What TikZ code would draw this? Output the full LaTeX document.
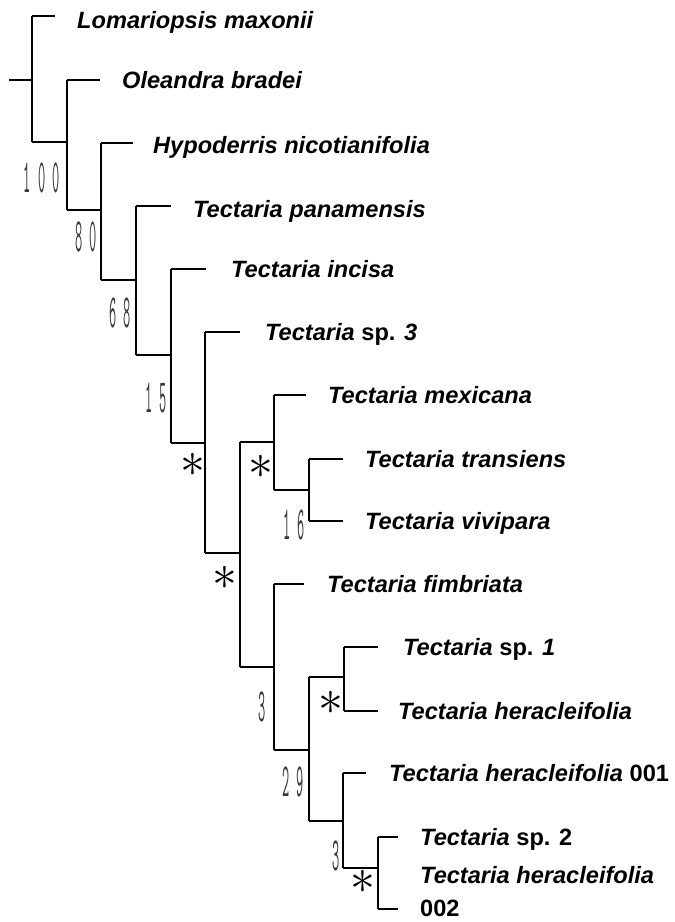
\documentclass[tikz,border=0pt]{standalone}
\usepackage{fontspec}
\usepackage{graphicx}
\setmainfont{Liberation Sans}
\definecolor{suppgray}{RGB}{55,55,55}
\begin{document}
\begin{tikzpicture}[x=1pt,y=-1pt,
  hline/.style={line width=2.6pt,black},
  vline/.style={line width=1.6pt,black},
  taxon/.style={anchor=base west,inner sep=0pt,font=\fontsize{23.6}{27}\selectfont\bfseries},
  supp/.style={inner sep=0pt,text=suppgray,font=\ttfamily\fontsize{14}{14}\selectfont},
  star/.style={inner sep=0pt,font=\fontsize{24.88}{25}\selectfont}]
\useasboundingbox[fill=white] (0,0) rectangle (675,922);
% vertical branch coordinates
\coordinate (root) at (9,80);
\coordinate (V1t) at (32,16);   \coordinate (V1b) at (32,142);
\coordinate (V2t) at (67,80);   \coordinate (V2b) at (67,210);
\coordinate (V3t) at (101,143); \coordinate (V3b) at (101,280);
\coordinate (V4t) at (136,206); \coordinate (V4b) at (136,355);
\coordinate (V5t) at (171,269); \coordinate (V5b) at (171,443);
\coordinate (V6t) at (205,332); \coordinate (V6b) at (205,553);
\coordinate (V7t) at (240,442); \coordinate (V7b) at (240,667);
\coordinate (V8t) at (274,395); \coordinate (V8b) at (274,490);
\coordinate (V9t) at (309,459); \coordinate (V9b) at (309,521);
\coordinate (V10t) at (274,584); \coordinate (V10b) at (274,750);
\coordinate (V11t) at (309,677); \coordinate (V11b) at (309,821);
\coordinate (V12t) at (344,647); \coordinate (V12b) at (344,711);
\coordinate (V13t) at (343,773); \coordinate (V13b) at (343,868);
\coordinate (V14t) at (378,837); \coordinate (V14b) at (378,909);
% verticals
\foreach \v in {V1,V2,V3,V4,V5,V6,V7,V8,V9,V10,V11,V12,V13,V14}
  \draw[vline] (\v t) -- (\v b);
% internal horizontals
\draw[hline] (root) -- (root -| V1t);
\draw[hline] (V1b) -- (V1b -| V2t);
\draw[hline] (V2b) -- (V2b -| V3t);
\draw[hline] (V3b) -- (V3b -| V4t);
\draw[hline] (V4b) -- (V4b -| V5t);
\draw[hline] (V5b) -- (V5b -| V6t);
\draw[hline] (V6b) -- (V6b -| V7t);
\draw[hline] (V7t) -- (V7t -| V8t);
\draw[hline] (V8b) -- (V8b -| V9t);
\draw[hline] (V7b) -- (V7b -| V10t);
\draw[hline] (V10b) -- (V10b -| V11t);
\draw[hline] (V11t) -- (V11t -| V12t);
\draw[hline] (V11b) -- (V11b -| V13t);
\draw[hline] (V13b) -- (V13b -| V14t);
% terminal branches
\draw[hline] (V1t) -- ++(23,0);
\draw[hline] (V2t) -- ++(33,0);
\draw[hline] (V3t) -- ++(32,0);
\draw[hline] (V4t) -- ++(35,0);
\draw[hline] (V5t) -- ++(35,0);
\draw[hline] (V6t) -- ++(35,0);
\draw[hline] (V8t) -- ++(32,0);
\draw[hline] (V9t) -- ++(34,0);
\draw[hline] (V9b) -- ++(34,0);
\draw[hline] (V10t) -- ++(30,0);
\draw[hline] (V12t) -- ++(34,0);
\draw[hline] (V12b) -- ++(34,0);
\draw[hline] (V13t) -- ++(23,0);
\draw[hline] (V14t) -- ++(20,0);
\draw[hline] (V14b) -- ++(20,0);
% taxon labels
\node[taxon] (t1) at (77,28) {\itshape Lomariopsis maxonii};
\node[taxon] (t2) at (122,88) {\itshape Oleandra bradei};
\node[taxon] (t3) at (153,153) {\itshape Hypoderris nicotianifolia};
\node[taxon] (t4) at (193,217) {\itshape Tectaria panamensis};
\node[taxon] (t5) at (231,277) {\itshape Tectaria incisa};
\node[taxon] (t6) at (265,340) {{\itshape Tectaria} sp. {\itshape 3}};
\node[taxon] (t7) at (328,403) {\itshape Tectaria mexicana};
\node[taxon] (t8) at (365,467) {\itshape Tectaria transiens};
\node[taxon] (t9) at (365,529) {\itshape Tectaria vivipara};
\node[taxon] (t10) at (327,592) {\itshape Tectaria fimbriata};
\node[taxon] (t11) at (403,655) {{\itshape Tectaria} sp. {\itshape 1}};
\node[taxon] (t12) at (398,719) {\itshape Tectaria heracleifolia};
\node[taxon] (t13) at (389,781) {{\itshape Tectaria heracleifolia} 001};
\node[taxon] (t14) at (420,845) {{\itshape Tectaria} sp. 2};
\node[taxon,align=left,anchor=north west] (t15) at (420,866) {{\itshape Tectaria heracleifolia}\\[6pt]002};
% support values
\node[supp] (s1) at (42,178) {\scalebox{1.0}[3.4]{1 0 0}};
\node[supp] (s2) at (86,237) {\scalebox{1.0}[3.4]{8 0}};
\node[supp] (s3) at (120,313) {\scalebox{1.0}[3.4]{6 8}};
\node[supp] (s4) at (156,398) {\scalebox{1.0}[3.4]{1 5}};
\node[supp] (s5) at (294,525) {\scalebox{1.0}[3.4]{1 6}};
\node[supp] (s6) at (262,707) {\scalebox{1.0}[3.4]{3}};
\node[supp] (s7) at (293,782) {\scalebox{1.0}[3.4]{2 9}};
\node[supp] (s8) at (336,856) {\scalebox{1.0}[3.4]{3}};
% asterisks
\node[star] (a1) at (193,465) {\scalebox{2}{$\ast$}};
\node[star] (a2) at (261,467) {\scalebox{2}{$\ast$}};
\node[star] (a3) at (225,578) {\scalebox{2}{$\ast$}};
\node[star] (a4) at (331,703) {\scalebox{2}{$\ast$}};
\node[star] (a5) at (363,882) {\scalebox{2}{$\ast$}};
\end{tikzpicture}
\end{document}
